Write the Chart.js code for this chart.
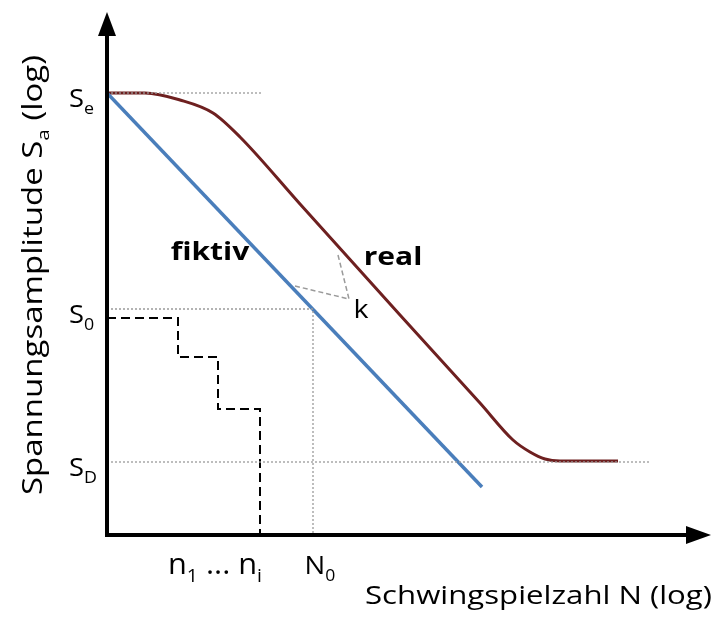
<!DOCTYPE html>
<html>
<head>
<meta charset="utf-8">
<script src="https://cdn.jsdelivr.net/npm/chart.js@4"></script>
<style>
  html, body { margin: 0; padding: 0; background: #fff; }
  #wrap { width: 718px; height: 617px; }
</style>
</head>
<body>
<div id="wrap"><canvas id="myChart" width="718" height="617"></canvas></div>
<script>
// log-N / log-S positions (arbitrary units)
const fiktivX = [0, 375]
const fiktivY = [442, 48]
const realX = [0, 38, 73, 106, 133, 193, 293, 373, 406, 423, 438, 453, 511]
const realY = [442, 442, 435, 422, 398, 331, 220, 132, 95, 83, 76, 74, 74]
const stepX = [0, 71, 71, 111, 111, 153, 153]
const stepY = [217, 217, 178, 178, 126, 126, 0]
const kLineA = [[231, 280], [242, 236]]
const kLineB = [[188, 249], [242, 236]]

const levelSe = 442
const levelS0 = 226
const levelSD = 73
const N0 = 206
const seGuideEnd = 155
const sdGuideEnd = 543

const yTickLabels = [["S", "e", levelSe], ["S", "0", levelS0], ["S", "D", levelSD]]
const xTickLabels = [
    [["n", false], ["1", true], [" ... n", false], ["i", true]],
    [["N", false], ["0", true]]
]
const xTickPos = [108, 213]
const xTitle = [["Schwingspielzahl N (log)", false]]
const yTitle = [["Spannungsamplitude S", false], ["a", true], [" (log)", false]]

const ctx = document.getElementById('myChart')
const FONT = '"Open Sans", sans-serif'

function pts(xs, ys) {
    return xs.map((x, i) => ({ x: x, y: ys[i] }))
}

function seg(p) {
    return p.map(q => ({ x: q[0], y: q[1] }))
}

// text with subscripts; sx = horizontal stretch, or fit to a width
function richText(c, parts, x, y, size, align, sx, bold, fitWidth) {
    const subSize = Math.round(size * 0.64)
    const w = p => {
        c.font = (bold ? "bold " : "") + (p[1] ? subSize : size) + "px " + FONT
        return c.measureText(p[0]).width
    }
    let total = 0
    parts.forEach(p => total += w(p))
    if (fitWidth) sx = fitWidth / total
    total *= sx
    let px = x
    if (align == "center") px = x - total / 2
    if (align == "right") px = x - total
    c.textAlign = "left"
    c.textBaseline = "alphabetic"
    parts.forEach(p => {
        const pw = w(p) * sx
        c.save()
        c.translate(px, y + (p[1] ? size * 0.26 : 0))
        c.scale(sx, 1)
        c.fillText(p[0], 0, 0)
        c.restore()
        px += pw
    })
}

const guideStyle = {
    borderColor: "#9a9a9a",
    borderWidth: 1.3,
    borderDash: [2, 2],
    pointRadius: 0,
    showLine: true,
    fill: false
}

// text and arrows
const decor = {
    id: 'decor',
    afterDraw(chart) {
        const c = chart.ctx
        const xs = chart.scales.x
        const ys = chart.scales.y
        const x0 = xs.getPixelForValue(0)
        const y0 = ys.getPixelForValue(0)
        c.save()
        // axes
        c.strokeStyle = "#000"
        c.fillStyle = "#000"
        c.lineWidth = 4
        c.beginPath()
        c.moveTo(x0, y0 + 2)
        c.lineTo(x0, 30)
        c.moveTo(x0 - 2, y0)
        c.lineTo(692, y0)
        c.stroke()
        c.beginPath()
        c.moveTo(x0, 12)
        c.lineTo(x0 - 9, 36)
        c.lineTo(x0 + 9, 36)
        c.closePath()
        c.fill()
        c.beginPath()
        c.moveTo(711, y0)
        c.lineTo(686, y0 - 9)
        c.lineTo(686, y0 + 9)
        c.closePath()
        c.fill()

        yTickLabels.forEach(t => {
            const py = ys.getPixelForValue(t[2])
            richText(c, [[t[0], false], [t[1], true]], 69, py + 14, 26, "left", 1.05, false)
        })

        richText(c, xTickLabels[0], xs.getPixelForValue(xTickPos[0]), 574, 30, "center", 1, false, 94)
        richText(c, xTickLabels[1], xs.getPixelForValue(xTickPos[1]), 574, 25, "center", 1.1, false)

        richText(c, xTitle, 712, 604, 26, "right", 1, false, 347)

        c.save()
        c.translate(42, 275)
        c.rotate(-Math.PI / 2)
        richText(c, yTitle, 0, 0, 27, "center", 1, false, 440)
        c.restore()

        richText(c, [["fiktiv", false]], 210, 260, 25, "center", 1.2, true)
        richText(c, [["real", false]], 393, 265, 25, "center", 1.2, true)
        richText(c, [["k", false]], 361, 318, 26, "center", 1.1, false)
        c.restore()
    }
}

new Chart(ctx, {
    type: 'scatter',
    data: {
        datasets: [
            Object.assign({ data: seg([[0, levelSe], [seGuideEnd, levelSe]]) }, guideStyle),
            Object.assign({ data: seg([[0, levelS0], [N0, levelS0], [N0, 0]]) }, guideStyle),
            Object.assign({ data: seg([[0, levelSD], [sdGuideEnd, levelSD]]) }, guideStyle),
            {
                data: seg(kLineA),
                borderColor: "#9a9a9a",
                borderWidth: 1.5,
                borderDash: [5, 3],
                pointRadius: 0,
                showLine: true
            },
            {
                data: seg(kLineB),
                borderColor: "#9a9a9a",
                borderWidth: 1.5,
                borderDash: [5, 3],
                pointRadius: 0,
                showLine: true
            },
            {
                label: 'Kollektiv',
                data: pts(stepX, stepY),
                borderColor: "#000",
                borderWidth: 2,
                borderDash: [9, 5],
                pointRadius: 0,
                showLine: true
            },
            {
                label: 'fiktiv',
                data: pts(fiktivX, fiktivY),
                borderColor: "#4a7ebb",
                borderWidth: 3.5,
                pointRadius: 0,
                showLine: true
            },
            {
                label: 'real',
                data: pts(realX, realY),
                borderColor: "#6e2020",
                borderWidth: 3,
                pointRadius: 0,
                showLine: true,
                cubicInterpolationMode: 'monotone'
            }
        ]
    },
    options: {
        responsive: false,
        animation: false,
        layout: { padding: { left: 107, right: 11, top: 15, bottom: 82 } },
        plugins: { legend: { display: false }, tooltip: { enabled: false } },
        scales: {
            x: { type: 'linear', min: 0, max: 600, display: false },
            y: { type: 'linear', min: 0, max: 520, display: false }
        }
    },
    plugins: [decor]
})
</script>
</body>
</html>
